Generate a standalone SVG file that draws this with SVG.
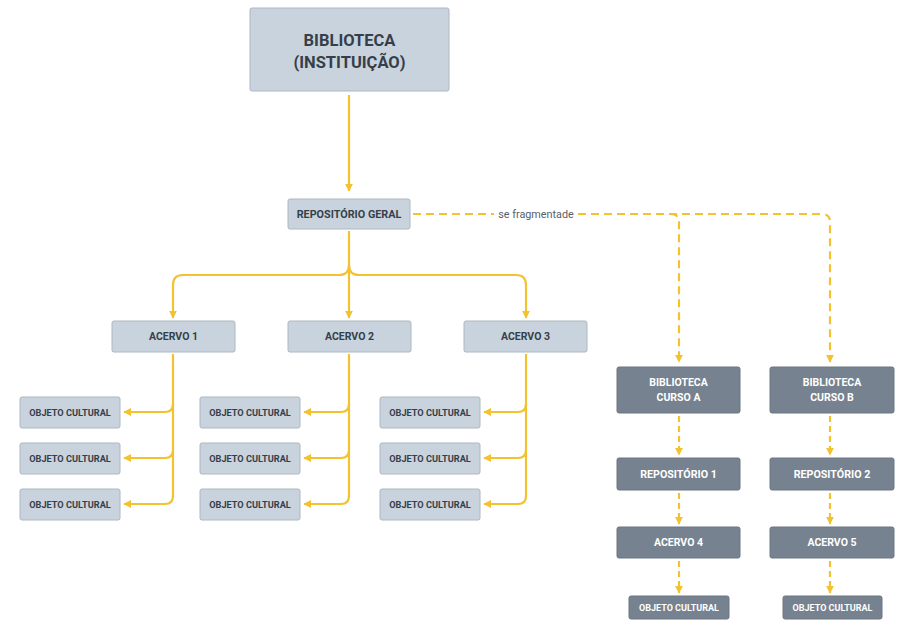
<svg xmlns="http://www.w3.org/2000/svg" width="899" height="620" viewBox="0 0 899 620">
<style>
.lb{fill:#c9d3dd;stroke:#aeb8c2;stroke-width:1}
.db{fill:#76828f;stroke:#6a7683;stroke-width:1}
.t{font-family:Roboto,"Liberation Sans",sans-serif;font-weight:700;text-anchor:middle}
.dk{fill:#353f49}
.wh{fill:#ffffff}
.c{fill:none;stroke:#f2c230;stroke-width:2.2}
.d{fill:none;stroke:#f2c230;stroke-width:2.2;stroke-dasharray:8 5}
</style>
<defs>
<marker id="a" viewBox="0 0 10 10" refX="9" refY="5" markerWidth="8" markerHeight="8" markerUnits="userSpaceOnUse" orient="auto">
<path d="M0,0 L10,5 L0,10 Z" fill="#f2c230"/>
</marker>
</defs>
<g id="connectors">
<path class="c" d="M349,95 L349,191" marker-end="url(#a)"/>
<path class="c" d="M349,231 L349,318" marker-end="url(#a)"/>
<path class="c" d="M349,265 Q349,275 339,275 L183,275 Q173,275 173,285 L173,318" marker-end="url(#a)"/>
<path class="c" d="M349,265 Q349,275 359,275 L516,275 Q526,275 526,285 L526,318" marker-end="url(#a)"/>
<path class="c" d="M173,354 L173,496 Q173,504 165,504 L124,504" marker-end="url(#a)"/>
<path class="c" d="M173,404 Q173,412 165,412 L124,412" marker-end="url(#a)"/>
<path class="c" d="M173,450 Q173,458 165,458 L124,458" marker-end="url(#a)"/>
<path class="c" d="M349,354 L349,496 Q349,504 341,504 L304,504" marker-end="url(#a)"/>
<path class="c" d="M349,404 Q349,412 341,412 L304,412" marker-end="url(#a)"/>
<path class="c" d="M349,450 Q349,458 341,458 L304,458" marker-end="url(#a)"/>
<path class="c" d="M526,354 L526,496 Q526,504 518,504 L484,504" marker-end="url(#a)"/>
<path class="c" d="M526,404 Q526,412 518,412 L484,412" marker-end="url(#a)"/>
<path class="c" d="M526,450 Q526,458 518,458 L484,458" marker-end="url(#a)"/>
<path class="d" d="M413,214 L494,214"/>
<path class="d" d="M578,214 L822,214 Q830,214 830,222 L830,362" marker-end="url(#a)"/>
<path class="d" d="M670,214 Q679,214 679,222 L679,362" marker-end="url(#a)"/>
<path class="d" style="stroke-dasharray:6 4" d="M679,416 L679,455" marker-end="url(#a)"/>
<path class="d" style="stroke-dasharray:6 4" d="M830,416 L830,455" marker-end="url(#a)"/>
<path class="d" style="stroke-dasharray:6 4" d="M679,493 L679,524" marker-end="url(#a)"/>
<path class="d" style="stroke-dasharray:6 4" d="M830,493 L830,524" marker-end="url(#a)"/>
<path class="d" style="stroke-dasharray:6 4" d="M679,561 L679,593" marker-end="url(#a)"/>
<path class="d" style="stroke-dasharray:6 4" d="M830,561 L830,593" marker-end="url(#a)"/>
<text x="536" y="217.5" font-family="Roboto,'Liberation Sans',sans-serif" font-size="10.8" fill="#555f69" text-anchor="middle">se fragmentade</text>
</g>
<g id="biblioteca"><rect class="lb" x="250" y="8" width="199" height="83" rx="2"/>
<text class="t dk" font-size="16.5" x="349.5" y="46">BIBLIOTECA</text>
<text class="t dk" font-size="16.5" x="349.5" y="68">(INSTITUIÇÃO)</text></g>
<g id="repgeral"><rect class="lb" x="288" y="199" width="122" height="30" rx="2"/><text class="t dk" font-size="10.8" x="349" y="218">REPOSITÓRIO GERAL</text></g>
<g id="acervo1"><rect class="lb" x="112" y="321" width="123" height="31" rx="2"/><text class="t dk" font-size="10.5" x="173.5" y="340">ACERVO 1</text></g>
<g id="acervo2"><rect class="lb" x="288" y="321" width="123" height="31" rx="2"/><text class="t dk" font-size="10.5" x="349.5" y="340">ACERVO 2</text></g>
<g id="acervo3"><rect class="lb" x="464" y="321" width="123" height="31" rx="2"/><text class="t dk" font-size="10.5" x="525.5" y="340">ACERVO 3</text></g>
<g id="obj11"><rect class="lb" x="20" y="397" width="100" height="31" rx="2"/><text class="t dk" font-size="9.2" x="70" y="415.5">OBJETO CULTURAL</text></g>
<g id="obj12"><rect class="lb" x="20" y="443" width="100" height="31" rx="2"/><text class="t dk" font-size="9.2" x="70" y="461.5">OBJETO CULTURAL</text></g>
<g id="obj13"><rect class="lb" x="20" y="489" width="100" height="31" rx="2"/><text class="t dk" font-size="9.2" x="70" y="507.5">OBJETO CULTURAL</text></g>
<g id="obj21"><rect class="lb" x="200" y="397" width="100" height="31" rx="2"/><text class="t dk" font-size="9.2" x="250" y="415.5">OBJETO CULTURAL</text></g>
<g id="obj22"><rect class="lb" x="200" y="443" width="100" height="31" rx="2"/><text class="t dk" font-size="9.2" x="250" y="461.5">OBJETO CULTURAL</text></g>
<g id="obj23"><rect class="lb" x="200" y="489" width="100" height="31" rx="2"/><text class="t dk" font-size="9.2" x="250" y="507.5">OBJETO CULTURAL</text></g>
<g id="obj31"><rect class="lb" x="380" y="397" width="100" height="31" rx="2"/><text class="t dk" font-size="9.2" x="430" y="415.5">OBJETO CULTURAL</text></g>
<g id="obj32"><rect class="lb" x="380" y="443" width="100" height="31" rx="2"/><text class="t dk" font-size="9.2" x="430" y="461.5">OBJETO CULTURAL</text></g>
<g id="obj33"><rect class="lb" x="380" y="489" width="100" height="31" rx="2"/><text class="t dk" font-size="9.2" x="430" y="507.5">OBJETO CULTURAL</text></g>
<g id="cursoA"><rect class="db" x="617" y="367" width="123" height="46" rx="2"/><text class="t wh" font-size="10.5" x="678.5" y="386">BIBLIOTECA</text><text class="t wh" font-size="10.5" x="678.5" y="401">CURSO A</text></g>
<g id="cursoB"><rect class="db" x="770" y="367" width="124" height="46" rx="2"/><text class="t wh" font-size="10.5" x="832" y="386">BIBLIOTECA</text><text class="t wh" font-size="10.5" x="832" y="401">CURSO B</text></g>
<g id="rep1"><rect class="db" x="617" y="458" width="123" height="32" rx="2"/><text class="t wh" font-size="10.7" x="678.5" y="478">REPOSITÓRIO 1</text></g>
<g id="rep2"><rect class="db" x="770" y="458" width="124" height="32" rx="2"/><text class="t wh" font-size="10.7" x="832" y="478">REPOSITÓRIO 2</text></g>
<g id="acervo4"><rect class="db" x="617" y="527" width="123" height="31" rx="2"/><text class="t wh" font-size="10.5" x="678.5" y="546">ACERVO 4</text></g>
<g id="acervo5"><rect class="db" x="770" y="527" width="124" height="31" rx="2"/><text class="t wh" font-size="10.5" x="832" y="546">ACERVO 5</text></g>
<g id="obj4"><rect class="db" x="629" y="596" width="100" height="23" rx="2"/><text class="t wh" font-size="9" x="679" y="611">OBJETO CULTURAL</text></g>
<g id="obj5"><rect class="db" x="783" y="596" width="99" height="23" rx="2"/><text class="t wh" font-size="9" x="832.5" y="611">OBJETO CULTURAL</text></g>
</svg>
